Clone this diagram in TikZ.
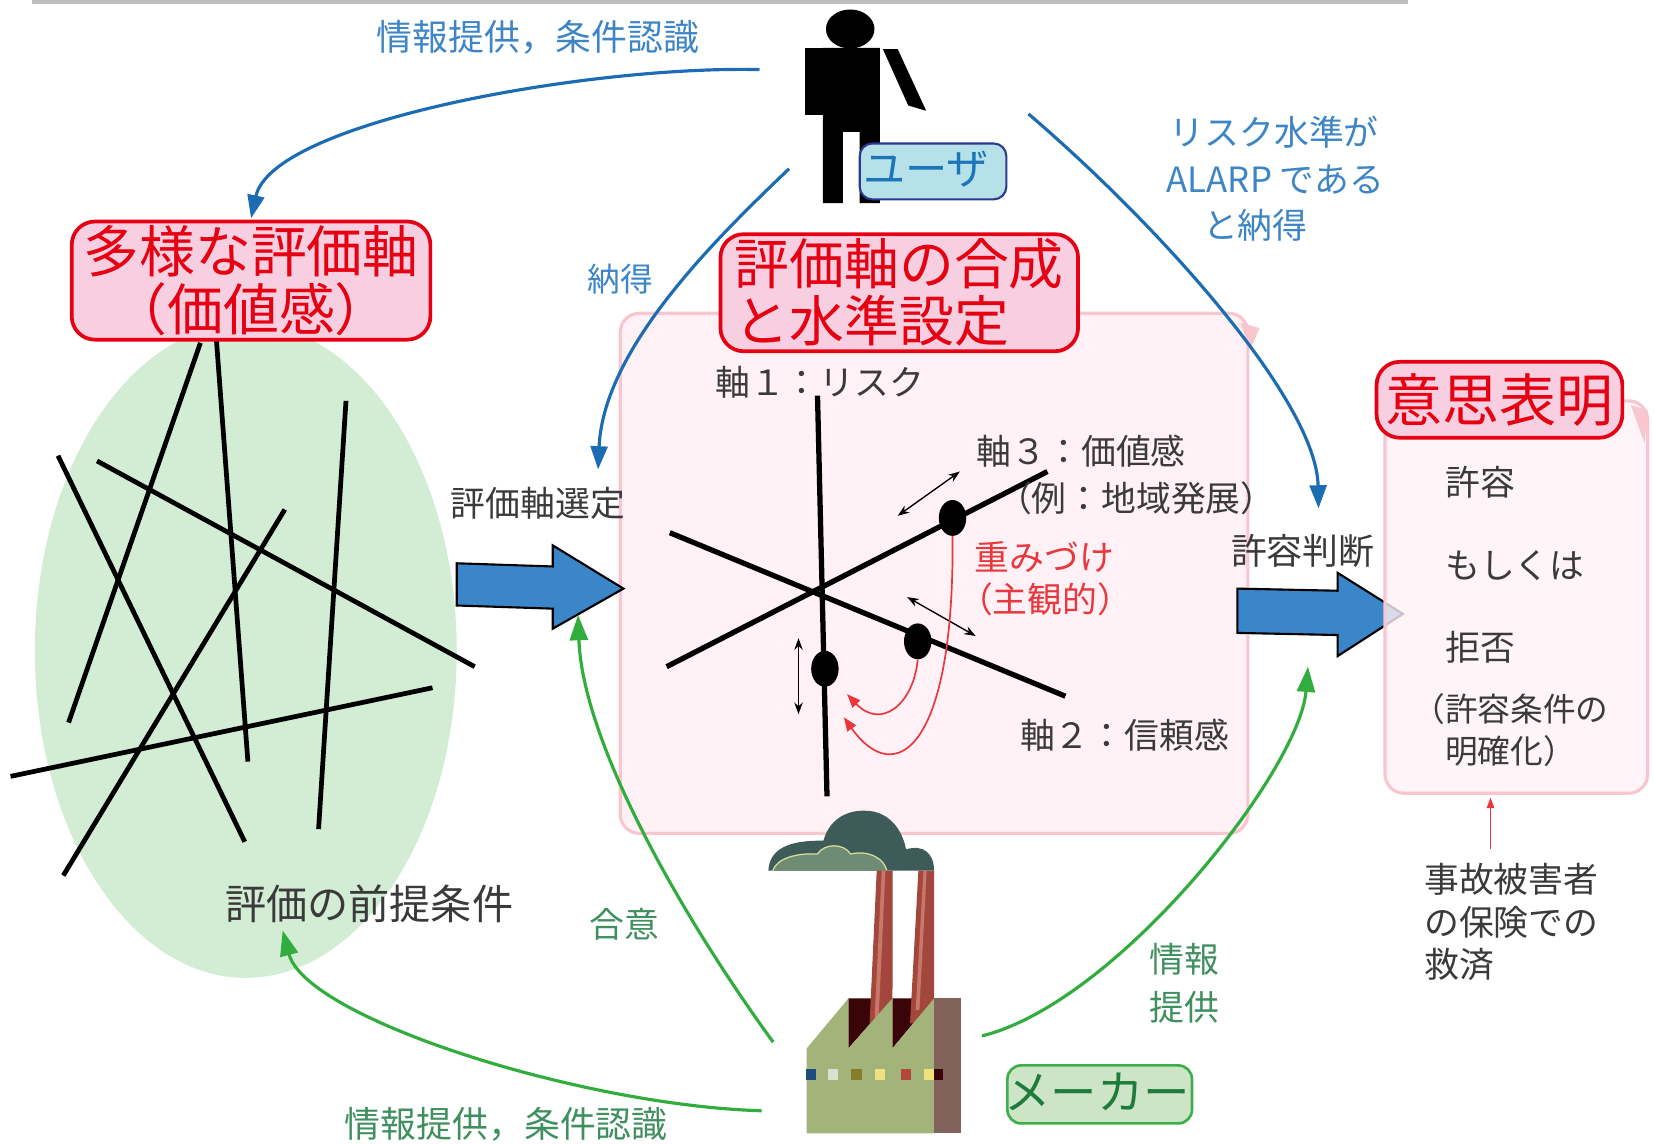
\documentclass[tikz,border=0pt]{standalone}
\usepackage{fontspec}
\setmainfont{Noto Sans CJK JP}
\usetikzlibrary{arrows.meta,shapes.geometric}

\definecolor{tdark}{HTML}{3A3A3A}
\definecolor{tblue}{HTML}{3D85C6}
\definecolor{tgreen}{HTML}{3F8F5F}
\definecolor{tred}{HTML}{E50012}
\definecolor{wred}{HTML}{E8383D}
\definecolor{tpink}{HTML}{F7CFE0}
\definecolor{pfill}{HTML}{FFF1F5}
\definecolor{pborder}{HTML}{F8C6CF}
\definecolor{efill}{HTML}{D2EDD4}
\definecolor{bblue}{HTML}{3A86C8}
\definecolor{ablue}{HTML}{1C6CB4}
\definecolor{agreen}{HTML}{31AD3D}
\definecolor{ubox}{HTML}{B7E1E8}
\definecolor{uborder}{HTML}{2B3990}
\definecolor{utext}{HTML}{1B75BB}
\definecolor{mbox}{HTML}{CDE5C6}
\definecolor{mborder}{HTML}{3DAF4A}
\definecolor{mtext}{HTML}{1E7B3B}
\definecolor{smoke}{HTML}{3D5B58}
\definecolor{smokein}{HTML}{6E8B74}
\definecolor{smokeline}{HTML}{D7DD9A}
\definecolor{brick}{HTML}{A3473D}
\definecolor{brickhi}{HTML}{C9776B}
\definecolor{roofdark}{HTML}{3A0508}
\definecolor{wall}{HTML}{A3B47A}
\definecolor{wallside}{HTML}{82625A}

\newcommand\fsz[2]{\fontsize{#1}{#2}\selectfont}

\begin{document}
\begin{tikzpicture}[x=1pt,y=-1pt,
  lbl/.style={inner sep=0pt, text=tdark},
  bluelbl/.style={inner sep=0pt, text=tblue},
  greenlbl/.style={inner sep=0pt, text=tgreen},
  titlebox/.style={draw=tred, fill=tpink, line width=3.5pt, rounded corners=22pt,
    inner sep=0pt, text=tred},
  panel/.style={draw=pborder, fill=pfill, line width=3pt, rounded corners=18pt, inner sep=0pt},
  valline/.style={line width=4.5pt},
  axisline/.style={line width=5pt},
  dot/.style={ellipse, fill=black, minimum width=26pt, minimum height=34pt, inner sep=0pt},
  movearr/.style={line width=1.3pt, {Stealth[length=11pt,width=8pt]}-{Stealth[length=11pt,width=8pt]}},
  bluearr/.style={draw=ablue, line width=3pt, -{Triangle[length=22pt,width=16pt]}},
  greenarr/.style={draw=agreen, line width=3pt, -{Triangle[length=24pt,width=17pt]}},
  redarr/.style={draw=wred, line width=1.6pt, -{Triangle[length=13pt,width=10pt]}},
  blockarrow/.style={fill=bblue, draw=black, line width=2pt, line join=miter},
]
\useasboundingbox (0,0) rectangle (1568,1084);

% rule along the top edge
\draw[line width=4pt, color=black!25] (30,1.5) -- (1335,1.5);

% ---- value axes cloud on the left ----
\node[ellipse, fill=efill, minimum width=400pt, minimum height=620pt, inner sep=0pt]
  (premise) at (233,617) {};
\draw[valline] (190,325) -- (65,685);
\draw[valline] (205,320) -- (235,722);
\draw[valline] (55,432) -- (232,798);
\draw[valline] (92,437) -- (450,632);
\draw[valline] (328,380) -- (302,786);
\draw[valline] (270,483) -- (60,830);
\draw[valline] (410,652) -- (10,736);
\node[titlebox, minimum width=340pt, minimum height=112pt, align=center, font=\fsz{53}{55}]
  (multi) at (238,266) {多様な評価軸\\（価値感）};
\node[lbl, font=\fsz{39}{44}] (premisetxt) at (350,857) {評価の前提条件};

% ---- synthesis panel ----
\node[panel, minimum width=595pt, minimum height=493pt] (synth) at (885.5,543.5) {};
\fill[pborder] (1176,306) -- (1194,311) -- (1185,332) -- cycle;
\node[titlebox, minimum width=339pt, minimum height=111pt, align=left, font=\fsz{52}{54}]
  (synthtitle) at (852.5,277.5) {評価軸の合成\\と水準設定};

% axes
\coordinate (ax1a) at (775,375); \coordinate (ax1b) at (784,755);
\coordinate (ax2a) at (635,505); \coordinate (ax2b) at (1010,660);
\coordinate (ax3a) at (632,632); \coordinate (ax3b) at (993,447);
\draw[axisline] (ax1a) -- (ax1b);
\draw[axisline] (ax2a) -- (ax2b);
\draw[axisline] (ax3a) -- (ax3b);
\node[dot] (d3) at (903,491) {};
\node[dot] (d2) at (870,608) {};
\node[dot] (d1) at (782,634) {};
\coordinate (m3a) at (851,489); \coordinate (m3b) at (910,447);
\coordinate (m2a) at (860,566); \coordinate (m2b) at (925,603);
\coordinate (m1a) at (757,605); \coordinate (m1b) at (757,677);
\draw[movearr] (m3a) -- (m3b);
\draw[movearr] (m2a) -- (m2b);
\draw[movearr] (m1a) -- (m1b);
\coordinate (r1e) at (803,658);
\coordinate (r2e) at (800,680);
\draw[redarr] (d2.south) .. controls (866,668) and (835,692) .. (r1e);
\draw[redarr] (d3.south) .. controls (905,712) and (848,748) .. (r2e);

\node[lbl, font=\fsz{33}{40}] (axis1) at (777,362) {軸１：リスク};
\node[lbl, font=\fsz{33}{40}] (axis3) at (1025,428) {軸３：価値感};
\node[lbl, font=\fsz{33}{40}, anchor=west] (axis3ex) at (945,472) {（例：地域発展）};
\node[inner sep=0pt, text=wred, font=\fsz{33}{40}, anchor=west] (weight) at (924,528) {重みづけ};
\node[inner sep=0pt, text=wred, font=\fsz{33}{40}, anchor=west] (subj) at (908,568) {（主観的）};
\node[lbl, font=\fsz{33}{40}] (axis2) at (1066,697) {軸２：信頼感};

% ---- block arrows ----
\draw[blockarrow] (433,534) -- (524,537) -- (524,517) -- (591,558) -- (524,596)
  -- (524,577) -- (433,574) -- cycle;
\node[lbl, font=\fsz{33}{40}] (select) at (510,477) {評価軸選定};
\draw[blockarrow] (1173,558) -- (1268,560) -- (1268,543) -- (1330,582) -- (1268,622)
  -- (1268,602) -- (1173,600) -- cycle;
\node[lbl, font=\fsz{34}{40}] (judge) at (1235,522) {許容判断};

% ---- decision panel ----
\node[panel, fill opacity=0.8, minimum width=249pt, minimum height=372pt] (decide) at (1437.5,566) {};
\fill[pborder] (1546,384) -- (1562,389) -- (1559,420) -- cycle;
\node[titlebox, minimum width=233pt, minimum height=72pt, font=\fsz{54}{60}]
  (decidetitle) at (1421.5,379) {意思表明};
\node[lbl, font=\fsz{33}{40}, anchor=west] (allow) at (1370,457) {許容};
\node[lbl, font=\fsz{33}{40}, anchor=west] (or) at (1370,536) {もしくは};
\node[lbl, font=\fsz{33}{40}, anchor=west] (reject) at (1370,614) {拒否};
\node[lbl, font=\fsz{31}{40}, align=center] (cond) at (1432,692) {（許容条件の\\明確化）};
\node[lbl, font=\fsz{33}{40.5}, align=left, anchor=north west] (victim) at (1350,818)
  {事故被害者\\の保険での\\救済};
\coordinate (victimtop) at (1413,805);
\coordinate (decidebottom) at (1413,756);
\draw[draw=wred, line width=1.5pt, -{Triangle[length=10pt,width=7pt]}] (victimtop) -- (decidebottom);

% ---- user figure ----
\fill (806,27.5) ellipse [x radius=23, y radius=18.5];
\fill (763,45.5) rectangle (780,109);
\fill (780,45.5) -- (834,45.5) -- (834,192.5) -- (815,192.5) -- (815,125)
  -- (799,125) -- (799,192.5) -- (780,192.5) -- cycle;
\fill (837,46.5) -- (851,46.5) -- (878,105) -- (861,100) -- cycle;
\node[draw=uborder, fill=ubox, line width=2pt, rounded corners=12pt, minimum width=139pt,
  minimum height=53pt, inner sep=0pt] (user) at (884.5,162.5) {};
\node[inner sep=0pt, text=utext, font=\fsz{40}{44}, anchor=west] (usertxt) at (818,160) {ユーザ};

% ---- maker factory ----
\begin{scope}[shift={(692.07pt,-748.96pt)}, x=0.31602pt, y=-0.31602pt]
  \fill[smoke] (115,242) .. controls (118,180) and (170,150) .. (280,152)
    .. controls (300,80) and (360,60) .. (405,62) .. controls (470,62) and (515,110) .. (528,178)
    .. controls (580,162) and (612,190) .. (612,242) -- cycle;
  \filldraw[fill=smokein, draw=smokeline, line width=1.2pt] (128,242)
    .. controls (140,205) and (200,188) .. (262,192) .. controls (282,160) and (340,158) .. (362,192)
    .. controls (420,178) and (465,210) .. (470,242);
  \fill[roofdark] (355,625) -- (487,625) -- (355,775) -- cycle;
  \fill[roofdark] (487,625) -- (612,625) -- (487,775) -- cycle;
  \fill[brick] (440,242) -- (488,242) -- (487,780) -- (415,780) -- cycle;
  \fill[brickhi] (455,242) -- (466,242) -- (445,700) -- (433,700) -- cycle;
  \fill[brick] (565,242) -- (612,242) -- (612,700) -- (540,700) -- cycle;
  \fill[brickhi] (580,242) -- (590,242) -- (568,660) -- (557,660) -- cycle;
  \fill[wall] (230,1030) -- (230,775) -- (355,625) -- (355,775) -- (487,625) -- (487,775)
    -- (612,625) -- (612,1030) -- cycle;
  \fill[wallside] (612,625) rectangle (692,1030);
  \fill[color={rgb,255:red,27;green,78;blue,122}] (228,837) rectangle (258,870);
  \fill[color={rgb,255:red,216;green,224;blue,208}] (295,837) rectangle (325,870);
  \fill[color={rgb,255:red,133;green,125;blue,42}] (362,837) rectangle (395,870);
  \fill[color={rgb,255:red,238;green,226;blue,122}] (435,837) rectangle (465,870);
  \fill[color={rgb,255:red,180;green,71;blue,59}] (512,837) rectangle (542,870);
  \fill[color={rgb,255:red,238;green,226;blue,122}] (583,837) rectangle (612,870);
  \fill[roofdark] (612,837) rectangle (640,870);
\end{scope}
\node[draw=mborder, fill=mbox, line width=2.5pt, rounded corners=13pt, minimum width=175pt,
  minimum height=55pt, inner sep=0pt] (maker) at (1042.5,1037.5) {};
\node[inner sep=0pt, text=mtext, font=\fsz{44}{48}] (makertxt) at (1040,1035) {メーカー};

% ---- user connectors ----
\coordinate (a1s) at (720,66);   \coordinate (a1e) at (238,207);
\coordinate (a2s) at (748,160);  \coordinate (a2e) at (567,445);
\coordinate (a3s) at (975,108);  \coordinate (a3e) at (1250,482);
\draw[bluearr] (a1s) .. controls (560,62) and (258,115) .. (a1e);
\draw[bluearr] (a2s) .. controls (680,225) and (572,330) .. (a2e);
\draw[bluearr] (a3s) .. controls (1100,215) and (1248,380) .. (a3e);
\node[bluelbl, font=\fsz{34}{40}] (info1) at (510,35) {情報提供，条件認識};
\node[bluelbl, font=\fsz{31}{40}] (agree1) at (588,265) {納得};
\node[bluelbl, font=\fsz{33}{40}] (alarp1) at (1208,125) {リスク水準が};
\node[bluelbl, font=\fsz{33}{40}] (alarp2) at (1209,170) {ALARP である};
\node[bluelbl, font=\fsz{33}{40}] (alarp3) at (1190,214) {と納得};

% ---- maker connectors ----
\coordinate (g1s) at (733,988);  \coordinate (g1e) at (548,583);
\coordinate (g2s) at (931,982);  \coordinate (g2e) at (1240,632);
\coordinate (g3s) at (722,1053); \coordinate (g3e) at (268,882);
\draw[greenarr] (g1s) .. controls (640,860) and (552,700) .. (g1e);
\draw[greenarr] (g2s) .. controls (1060,950) and (1232,730) .. (g2e);
\draw[greenarr] (g3s) .. controls (550,1048) and (290,965) .. (g3e);
\node[greenlbl, font=\fsz{33}{40}] (consent) at (592,876) {合意};
\node[greenlbl, font=\fsz{33}{45}, align=center] (info2) at (1123,932) {情報\\提供};
\node[greenlbl, font=\fsz{34}{40}] (info3) at (480,1066) {情報提供，条件認識};

\end{tikzpicture}
\end{document}
